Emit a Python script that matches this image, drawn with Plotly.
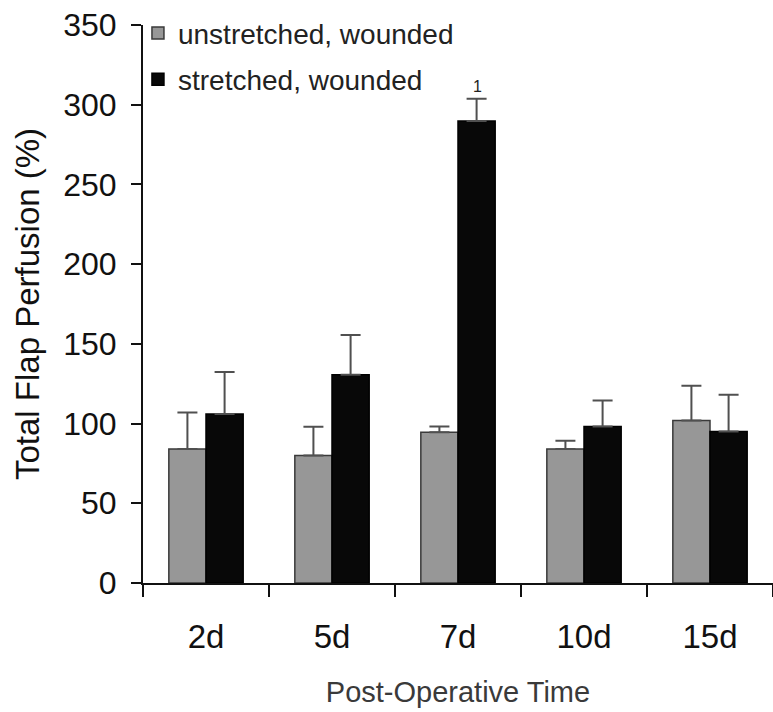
import plotly.graph_objects as go

categories = ["2d", "5d", "7d", "10d", "15d"]
unstretched = [84, 80, 94.5, 84, 102]
unstretched_err = [23, 18, 3.7, 5.3, 21.8]
stretched = [106, 130.6, 289.8, 98.2, 95]
stretched_err = [26.3, 25, 14, 16.3, 23]
y_ticks = [0, 50, 100, 150, 200, 250, 300, 350]

FONT = "Liberation Sans, Arial, sans-serif"

fig = go.Figure()
fig.add_trace(go.Bar(
    x=categories, y=unstretched, name="unstretched, wounded",
    marker=dict(color="#979797", line=dict(color="#3a3a3a", width=1.5)),
    error_y=dict(type="data", array=unstretched_err, arrayminus=[0]*5, symmetric=False,
                 color="#505050", thickness=2, width=10),
    legendgroup="a",
))
fig.add_trace(go.Bar(
    x=categories, y=stretched, name="stretched, wounded",
    marker=dict(color="#080808", line=dict(color="#000000", width=1.5)),
    error_y=dict(type="data", array=stretched_err, arrayminus=[0]*5, symmetric=False,
                 color="#505050", thickness=2, width=10),
    legendgroup="b",
))

fig.add_annotation(x="7d", y=stretched[2] + stretched_err[2], xref="x", yref="y",
                   text="1", showarrow=False, xshift=19, yshift=12,
                   font=dict(family=FONT, size=16, color="#222"))

fig.update_layout(
    width=773, height=712,
    margin=dict(l=143, r=0, t=25, b=129),
    paper_bgcolor="white", plot_bgcolor="white",
    barmode="group", bargap=0.41, bargroupgap=0,
    font=dict(family=FONT, color="#111"),
    showlegend=True,
    legend=dict(x=-0.008, y=1.03, xanchor="left", yanchor="top",
                bgcolor="rgba(0,0,0,0)", font=dict(size=28, color="#222"),
                tracegroupgap=7, itemwidth=30),
    xaxis=dict(
        showline=True, linecolor="#111", linewidth=2,
        ticks="outside", ticklen=12, tickwidth=2, tickcolor="#111",
        tickson="boundaries", tickfont=dict(size=33, color="#111"),
        ticklabelstandoff=23,
        title=dict(text="Post-Operative Time", font=dict(size=29, color="#3a3a3a"), standoff=28),
        showgrid=False, zeroline=False,
    ),
    yaxis=dict(
        range=[0, 350], tickvals=y_ticks,
        showline=True, linecolor="#111", linewidth=2,
        ticks="outside", ticklen=10, tickwidth=2, tickcolor="#111",
        tickfont=dict(size=32, color="#111"), ticklabelstandoff=8,
        title=dict(text="Total Flap Perfusion (%)", font=dict(size=33, color="#111"), standoff=14),
        showgrid=False, zeroline=False,
    ),
)

fig.write_html("out.html")
